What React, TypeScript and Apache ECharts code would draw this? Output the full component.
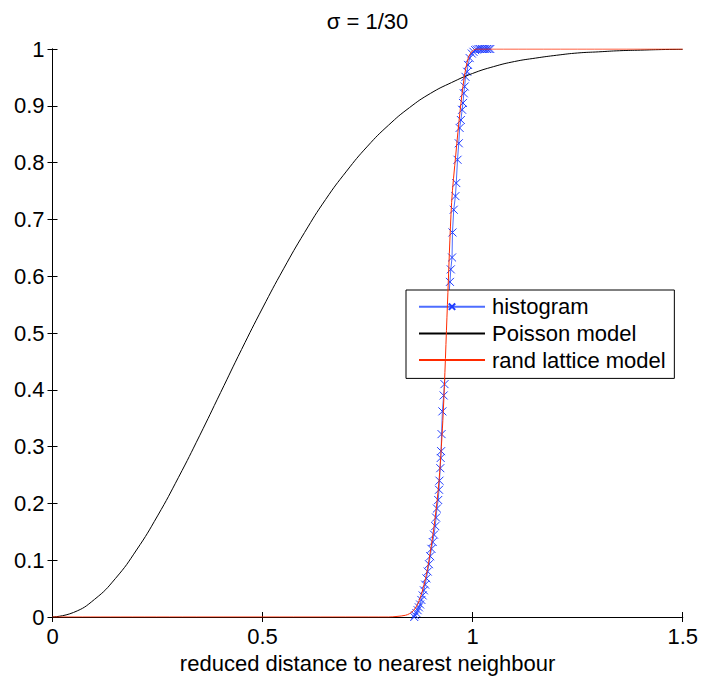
import React, { useEffect, useRef } from "react";
import * as echarts from "echarts";

const titleText = "σ = 1/30";
const xAxisName = "reduced distance to nearest neighbour";
const xTicks = [0, 0.5, 1, 1.5];
const yTicks = [0, 0.1, 0.2, 0.3, 0.4, 0.5, 0.6, 0.7, 0.8, 0.9, 1];

const histogramX = [
  0.861, 0.863, 0.866, 0.869, 0.872, 0.875, 0.878, 0.881, 0.884, 0.887, 0.89,
  0.893, 0.896, 0.899, 0.902, 0.905, 0.908, 0.911, 0.913, 0.915, 0.918, 0.92,
  0.921, 0.923, 0.924, 0.925, 0.926, 0.928, 0.931, 0.933, 0.936, 0.939, 0.942,
  0.946, 0.948, 0.951, 0.952, 0.955, 0.959, 0.961, 0.964, 0.967, 0.969, 0.972,
  0.975, 0.977, 0.979, 0.981, 0.983, 0.987, 0.989, 0.993, 0.998, 1.002, 1.006,
  1.01, 1.014, 1.018, 1.022, 1.026, 1.03, 1.034, 1.038, 1.042,
];
const histogramY = [
  0.0, 0.003, 0.007, 0.012, 0.017, 0.022, 0.03, 0.038, 0.047, 0.057, 0.068,
  0.08, 0.093, 0.107, 0.12, 0.132, 0.145, 0.16, 0.175, 0.191, 0.206, 0.224,
  0.24, 0.262, 0.28, 0.292, 0.322, 0.362, 0.39, 0.41, 0.45, 0.5, 0.55, 0.59,
  0.612, 0.633, 0.677, 0.717, 0.741, 0.764, 0.805, 0.834, 0.861, 0.875, 0.893,
  0.905, 0.922, 0.934, 0.951, 0.96, 0.972, 0.984, 0.992, 0.995, 0.998, 0.999,
  1.0, 1.0, 1.0, 1.0, 1.0, 1.0, 1.0, 1.0,
];

const poissonX = [
  0, 0.05, 0.1, 0.15, 0.2, 0.25, 0.3, 0.35, 0.4, 0.45, 0.5, 0.55, 0.6, 0.65,
  0.7, 0.75, 0.8, 0.85, 0.9, 0.95, 1.0, 1.05, 1.1, 1.15, 1.2, 1.25, 1.3, 1.35,
  1.4, 1.45, 1.5,
];
const poissonY = [
  0, 0.008, 0.031, 0.068, 0.118, 0.178, 0.246, 0.319, 0.395, 0.471, 0.544,
  0.613, 0.677, 0.735, 0.785, 0.829, 0.866, 0.897, 0.922, 0.941, 0.957, 0.969,
  0.978, 0.984, 0.989, 0.993, 0.995, 0.997, 0.998, 0.999, 0.9995,
];

const latticeX = [
  0, 0.8, 0.82, 0.84, 0.85, 0.86, 0.87, 0.88, 0.89, 0.9, 0.91, 0.92, 0.93,
  0.94, 0.95, 0.96, 0.97, 0.98, 0.99, 1.0, 1.01, 1.5,
];
const latticeY = [
  0, 0, 0.001, 0.003, 0.006, 0.012, 0.024, 0.045, 0.075, 0.118, 0.17, 0.24,
  0.36, 0.55, 0.73, 0.815, 0.89, 0.95, 0.985, 0.997, 1, 1,
];

const zip = (xs: number[], ys: number[]) => xs.map((x, i) => [x, ys[i]]);

const FONT = "'Liberation Sans', Arial, Helvetica, sans-serif";
const FS = 22;

export default function App() {
  const ref = useRef<HTMLDivElement>(null);
  useEffect(() => {
    if (!ref.current) return;
    const chart = echarts.init(ref.current, undefined, { renderer: "svg" });
    const axisLine = { show: true, lineStyle: { color: "#000", width: 1 } };
    const tick = { show: true, inside: true, length: 5, lineStyle: { color: "#000", width: 1 } };
    const fmt = (v: number) => String(Math.round(v * 10) / 10);
    chart.setOption({
      animation: false,
      backgroundColor: "#fff",
      textStyle: { fontFamily: FONT },
      grid: { left: 52.5, right: 18, top: 49, bottom: 60.3, containLabel: false },
      graphic: [
        {
          type: "text",
          x: 367.5,
          y: 10,
          style: {
            text: titleText,
            fontSize: 22,
            fontFamily: FONT,
            fill: "#000",
            align: "center",
            textAlign: "center",
            verticalAlign: "top",
          },
        },
      ],
      legend: {
        left: 406,
        top: 290,
        orient: "vertical",
        backgroundColor: "#fff",
        borderColor: "#000",
        borderWidth: 1,
        borderRadius: 0,
        padding: [5.7, 8.7, 7.3, 12],
        itemGap: 4.7,
        itemWidth: 66,
        itemHeight: 8,
        selectedMode: false,
        textStyle: { fontSize: FS, fontFamily: FONT, color: "#000", padding: [0, 0, 0, 2], lineHeight: 22 },
        data: [
          { name: "histogram" },
          { name: "Poisson model", itemStyle: { opacity: 0 } },
          { name: "rand lattice model", itemStyle: { opacity: 0 } },
        ],
      },
      xAxis: [
        {
          type: "value",
          position: "bottom",
          min: 0,
          max: 1.5,
          interval: 0.5,
          axisLine,
          axisTick: tick,
          splitLine: { show: false },
          axisLabel: { show: true, fontSize: FS, fontFamily: FONT, color: "#000", margin: 8, formatter: fmt },
          name: xAxisName,
          nameLocation: "middle",
          nameGap: 35,
          nameTextStyle: { fontSize: FS, fontFamily: FONT, color: "#000" },
        },
        {
          type: "value",
          position: "top",
          min: 0,
          max: 1.5,
          interval: 0.5,
          axisLine,
          axisTick: tick,
          splitLine: { show: false },
          axisLabel: { show: false },
        },
      ],
      yAxis: [
        {
          type: "value",
          position: "left",
          min: 0,
          max: 1,
          interval: 0.1,
          axisLine,
          axisTick: tick,
          splitLine: { show: false },
          axisLabel: { show: true, fontSize: FS, fontFamily: FONT, color: "#000", margin: 8, formatter: fmt },
        },
        {
          type: "value",
          position: "right",
          min: 0,
          max: 1,
          interval: 0.1,
          axisLine,
          axisTick: tick,
          splitLine: { show: false },
          axisLabel: { show: false },
        },
      ],
      series: [
        {
          name: "histogram",
          type: "line",
          xAxisIndex: 0,
          yAxisIndex: 0,
          data: zip(histogramX, histogramY),
          symbol: "path://M0,0L10,10M10,0L0,10",
          symbolSize: 8,
          showAllSymbol: true,
          lineStyle: { color: "#4d6dff", width: 1 },
          itemStyle: { color: "none", borderColor: "#1f3cff", borderWidth: 1 },
          emphasis: { disabled: true },
          z: 2,
        },
        {
          name: "Poisson model",
          type: "line",
          xAxisIndex: 0,
          yAxisIndex: 0,
          data: zip(poissonX, poissonY),
          smooth: true,
          symbol: "none",
          lineStyle: { color: "#000", width: 1 },
          itemStyle: { color: "#000" },
          emphasis: { disabled: true },
          z: 3,
        },
        {
          name: "rand lattice model",
          type: "line",
          xAxisIndex: 0,
          yAxisIndex: 0,
          data: zip(latticeX, latticeY),
          smooth: 0.3,
          symbol: "none",
          lineStyle: { color: "#ff2a00", width: 1 },
          itemStyle: { color: "#ff2a00" },
          emphasis: { disabled: true },
          z: 4,
        },
      ],
    });
    return () => chart.dispose();
  }, []);
  return (
    <div
      ref={ref}
      style={{ position: "fixed", left: 0, top: 0, width: 701, height: 679, background: "#fff" }}
    />
  );
}
